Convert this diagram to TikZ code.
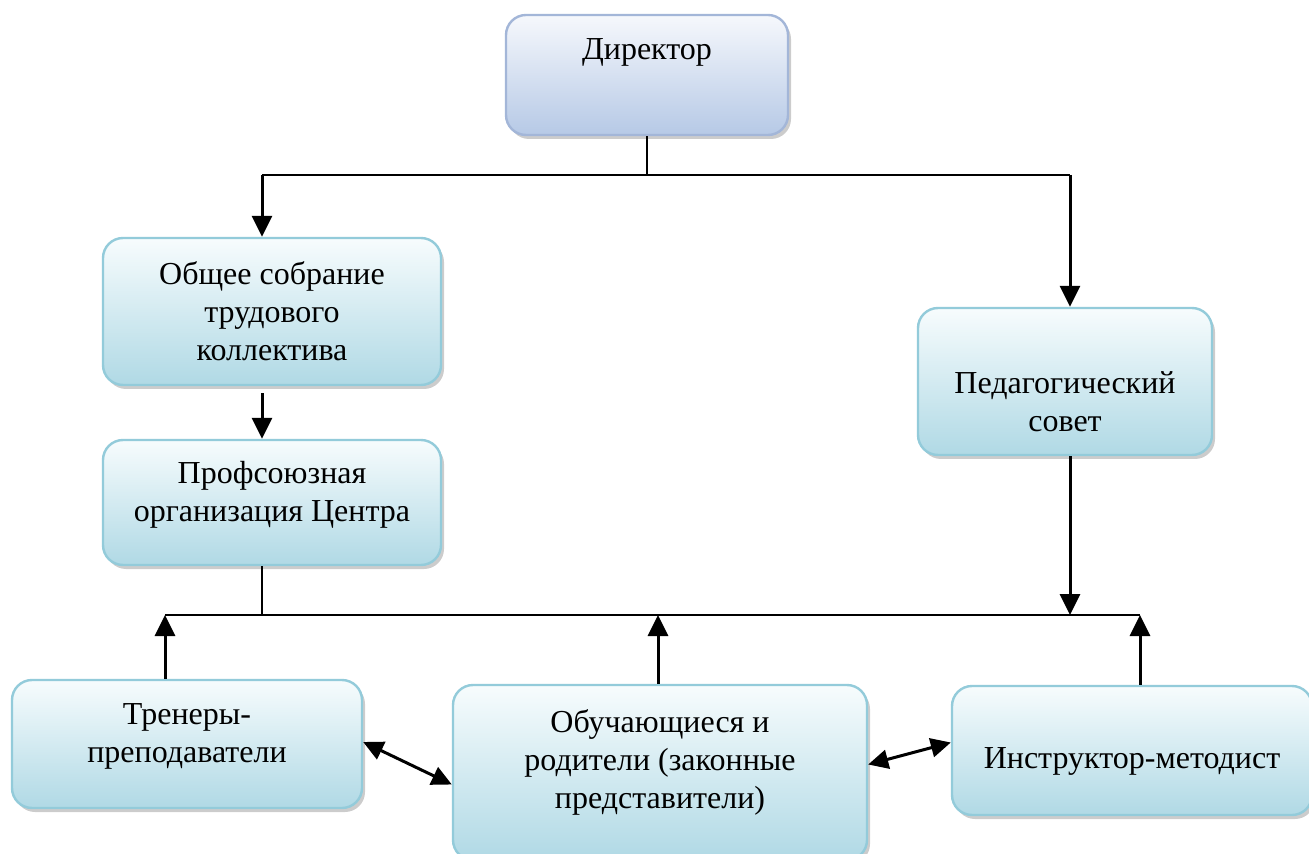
\documentclass[tikz,border=0pt]{standalone}
\usepackage{fontspec}
\setmainfont{Liberation Serif}
\usetikzlibrary{arrows.meta,shadows}
\definecolor{boxtop}{HTML}{F7FCFD}
\definecolor{boxbot}{HTML}{B0D9E5}
\definecolor{boxline}{HTML}{93CBDA}
\definecolor{dirtop}{HTML}{F6F8FC}
\definecolor{dirbot}{HTML}{B6C9E6}
\definecolor{dirline}{HTML}{A3B6D8}
\tikzset{
  orgbox/.style={draw=boxline,line width=1.2pt,rounded corners=10pt,top color=boxtop,bottom color=boxbot,
    align=center,font=\fontsize{16}{19}\selectfont,
    drop shadow={shadow xshift=1.5pt,shadow yshift=-2pt,opacity=.4}},
  chief/.style={orgbox,draw=dirline,top color=dirtop,bottom color=dirbot},
  wire/.style={line width=.9pt},
  arr/.style={line width=1.5pt,-{Triangle[length=10.5pt,width=10pt]}},
  darr/.style={line width=1.5pt,{Triangle[length=10pt,width=9.5pt]}-{Triangle[length=10pt,width=9.5pt]}}
}
\begin{document}
\begin{tikzpicture}[x=0.5pt,y=-0.5pt]
  \clip (0,0) rectangle (1309,854);
  \useasboundingbox (0,0) rectangle (1309,854);
  \node[chief,minimum width=141pt,minimum height=60pt] (dir) at (647,75) {Директор\rule[-26pt]{0pt}{26pt}};
  \node[orgbox,minimum width=169pt,minimum height=73.5pt] (sobr) at (272,311.5) {Общее собрание\\трудового\\коллектива};
  \node[orgbox,minimum width=169pt,minimum height=62.5pt] (prof) at (272,502.5) {Профсоюзная\\организация Центра\rule[-11pt]{0pt}{11pt}};
  \node[orgbox,minimum width=147pt,minimum height=73.5pt] (ped) at (1065,381.5) {\rule{0pt}{31pt}Педагогический\\совет};
  \node[orgbox,minimum width=175pt,minimum height=64pt] (tren) at (187,744) {Тренеры-\\преподаватели\rule[-11pt]{0pt}{11pt}};
  \node[orgbox,minimum width=207pt,minimum height=87.5pt] (obuch) at (660,772.5) {Обучающиеся и\\родители (законные\\представители)\rule[-13pt]{0pt}{13pt}};
  \node[orgbox,minimum width=180pt,minimum height=64.5pt] (instr) at (1132,750.5) {\rule{0pt}{21pt}Инструктор-методист};
  \coordinate (t1) at (262,175);
  \coordinate (t2) at (1070,175);
  \coordinate (b1) at (165,615);
  \coordinate (b2) at (1140,615);
  \coordinate (b3) at (658,615);
  \draw[wire] (dir.south) -- (dir.south |- t1);
  \draw[wire] (t1) -- (t2);
  \draw[arr] (t1) -- (t1 |- sobr.north);
  \draw[arr] (t2) -- (t2 |- ped.north);
  \draw[arr] ([yshift=-3.5pt]t1 |- sobr.south) -- (t1 |- prof.north);
  \draw[wire] (t1 |- prof.south) -- (t1 |- b1);
  \draw[arr] (t2 |- ped.south) -- (t2 |- b1);
  \draw[wire] (b1) -- (b2);
  \draw[arr] (b1 |- tren.north) -- (b1);
  \draw[arr] (b3 |- obuch.north) -- (b3);
  \draw[arr] (b2 |- instr.north) -- (b2);
  \draw[darr] ([yshift=1pt]tren.east) -- ([yshift=-6pt]obuch.west);
  \draw[darr] ([yshift=4pt]obuch.east) -- ([yshift=4pt]instr.west);
\end{tikzpicture}
\end{document}
